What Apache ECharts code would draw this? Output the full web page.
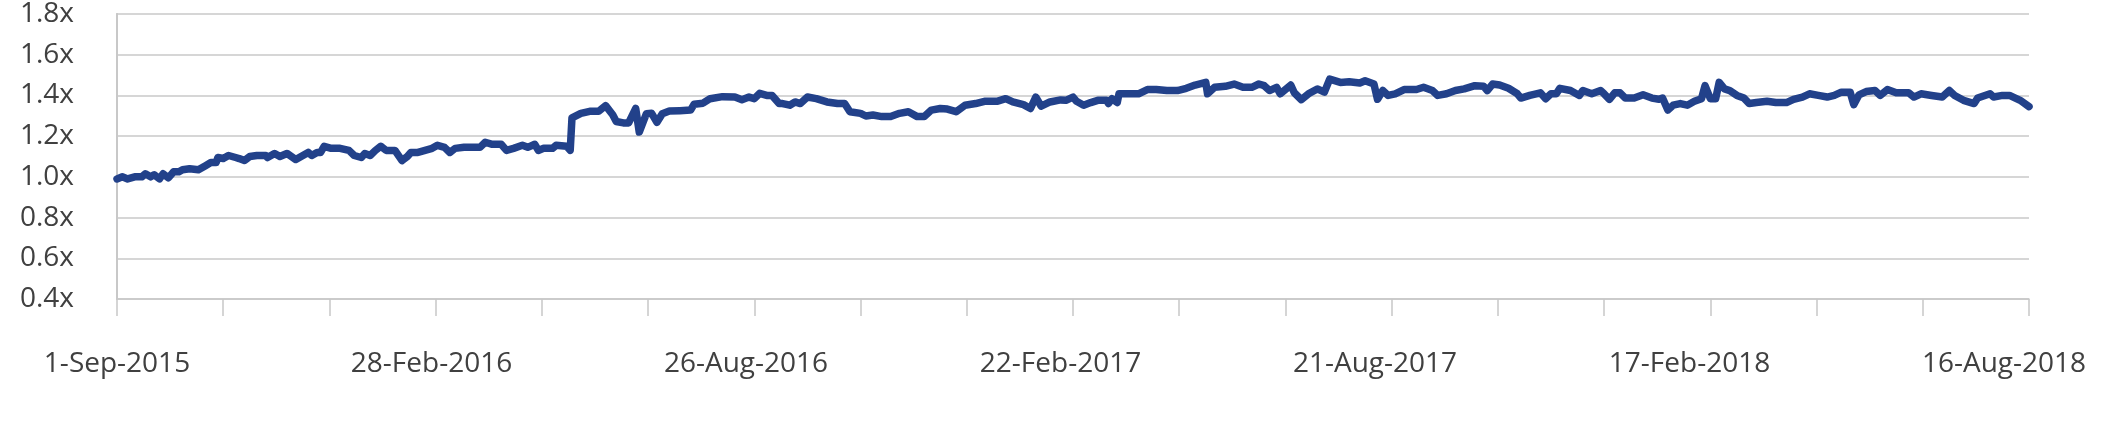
<!DOCTYPE html>
<html>
<head>
<meta charset="utf-8">
<script src="https://cdn.jsdelivr.net/npm/echarts@6/dist/echarts.min.js"></script>
<style>
html,body{margin:0;padding:0;background:#fff;}
#chart{width:2121px;height:436px;}
</style>
</head>
<body>
<div id="chart"></div>
<script>
// Start date of the series (day 0 on the x axis)
const startDate = [2015, 8, 1]; // 1-Sep-2015 (month 0-based)
const totalDays = 1080;         // 1-Sep-2015 .. 16-Aug-2018
const tickStepDays = 60;
const labelStepDays = 180;

// Y-axis tick values
const yTicks = [0.4, 0.6, 0.8, 1.0, 1.2, 1.4, 1.6, 1.8];

// Days since start date
const days = [
  0,3,6,10,14,16,19,21,24,26,
  29,32,35,37,41,46,50,53,56,57,
  60,63,67,69,72,75,79,84,85,89,
  92,96,101,104,108,110,113,115,117,121,
  126,131,134,138,140,143,146,149,152,157,
  161,164,166,170,174,178,181,185,188,191,
  196,201,205,208,212,217,220,224,229,232,
  236,238,241,246,248,254,256,257,262,267,
  272,276,280,282,286,289,293,295,299,302,
  305,308,312,318,324,326,331,335,342,349,
  353,357,360,363,367,370,374,376,380,383,
  386,390,395,401,407,411,414,420,423,427,
  432,437,442,447,452,456,460,465,469,474,
  479,485,490,497,502,506,512,516,519,522,
  527,533,536,540,542,546,550,554,559,560,
  562,565,566,570,577,582,587,593,599,604,
  609,615,616,620,626,631,636,641,645,648,
  651,655,657,663,665,669,673,678,682,685,
  691,696,702,705,710,712,715,718,722,727,
  734,738,743,746,751,756,761,767,772,774,
  777,781,786,791,793,798,804,807,810,813,
  815,821,826,828,833,838,840,843,846,849,
  852,857,862,867,871,873,876,879,883,887,
  891,895,897,900,903,905,908,911,915,919,
  922,926,932,937,943,947,952,956,961,966,
  970,974,979,981,984,988,993,996,1000,1005,
  1012,1015,1019,1025,1031,1035,1038,1043,1049,1051,
  1058,1060,1065,1069,1075,1080
];

// Multiple (x) values
const multiples = [
  0.99,1.0,0.99,1.0,1.0,1.015,1.0,1.01,0.99,1.015,
  0.995,1.025,1.025,1.035,1.04,1.035,1.055,1.07,1.07,1.095,
  1.09,1.105,1.095,1.09,1.08,1.1,1.105,1.105,1.095,1.115,
  1.1,1.115,1.085,1.1,1.12,1.105,1.12,1.12,1.15,1.14,
  1.14,1.13,1.105,1.095,1.115,1.105,1.13,1.15,1.13,1.13,
  1.08,1.1,1.12,1.12,1.13,1.14,1.155,1.145,1.12,1.14,
  1.145,1.145,1.145,1.17,1.16,1.16,1.13,1.14,1.155,1.145,
  1.16,1.13,1.14,1.14,1.155,1.15,1.13,1.29,1.312,1.322,
  1.322,1.35,1.305,1.272,1.265,1.265,1.336,1.22,1.31,1.312,
  1.268,1.31,1.323,1.325,1.328,1.357,1.362,1.384,1.394,1.392,
  1.379,1.392,1.384,1.41,1.4,1.4,1.36,1.36,1.352,1.368,
  1.36,1.392,1.384,1.368,1.36,1.36,1.32,1.312,1.299,1.304,
  1.296,1.296,1.312,1.32,1.296,1.296,1.328,1.336,1.333,1.32,
  1.352,1.36,1.371,1.371,1.384,1.368,1.355,1.336,1.392,1.347,
  1.368,1.378,1.376,1.392,1.371,1.352,1.365,1.376,1.376,1.36,
  1.384,1.365,1.408,1.408,1.408,1.429,1.429,1.424,1.424,1.435,
  1.451,1.464,1.408,1.44,1.445,1.456,1.44,1.44,1.456,1.448,
  1.424,1.44,1.408,1.451,1.413,1.379,1.408,1.432,1.416,1.48,
  1.464,1.467,1.461,1.472,1.456,1.381,1.424,1.4,1.408,1.429,
  1.429,1.44,1.424,1.4,1.408,1.424,1.432,1.448,1.445,1.424,
  1.456,1.451,1.435,1.408,1.387,1.4,1.413,1.384,1.408,1.408,
  1.435,1.424,1.4,1.424,1.408,1.424,1.408,1.381,1.413,1.413,
  1.387,1.387,1.403,1.387,1.381,1.387,1.328,1.352,1.36,1.352,
  1.371,1.384,1.448,1.384,1.384,1.464,1.432,1.424,1.4,1.387,
  1.36,1.365,1.371,1.365,1.365,1.381,1.392,1.408,1.4,1.392,
  1.4,1.416,1.416,1.355,1.403,1.419,1.424,1.4,1.429,1.413,
  1.413,1.392,1.408,1.4,1.392,1.424,1.4,1.376,1.36,1.387,
  1.408,1.392,1.4,1.4,1.376,1.345
];

const MONTHS = ['Jan','Feb','Mar','Apr','May','Jun','Jul','Aug','Sep','Oct','Nov','Dec'];
function dayLabel(d) {
  const t = new Date(Date.UTC(startDate[0], startDate[1], startDate[2]) + d * 86400000);
  return t.getUTCDate() + '-' + MONTHS[t.getUTCMonth()] + '-' + t.getUTCFullYear();
}

const seriesData = days.map((d, i) => [d, multiples[i]]);

const chart = echarts.init(document.getElementById('chart'), null, {renderer: 'canvas'});
const FONT = '"Open Sans", "Noto Sans", sans-serif';
const GRID_COLOR = '#c8c8c8';
const TEXT_COLOR = '#404040';

chart.setOption({
  animation: false,
  backgroundColor: '#ffffff',
  grid: {left: 117, right: 92, top: 13, bottom: 137, containLabel: false,
         show: true, borderColor: GRID_COLOR, borderWidth: 0},
  xAxis: [
    {
      type: 'value', min: 0, max: totalDays, interval: tickStepDays,
      position: 'bottom',
      axisLine: {show: true, lineStyle: {color: GRID_COLOR, width: 1.5}},
      axisTick: {show: true, length: 17, lineStyle: {color: GRID_COLOR, width: 1.5}},
      axisLabel: {show: false},
      splitLine: {show: false}
    },
    {
      // label axis (Excel spaces its date labels slightly tighter than the ticks)
      type: 'value', min: 0, max: 1094.3, interval: labelStepDays,
      position: 'bottom',
      axisLine: {show: false}, axisTick: {show: false}, splitLine: {show: false},
      axisLabel: {
        show: true, margin: 51, fontFamily: FONT, fontSize: 28, color: TEXT_COLOR,
        showMaxLabel: false,
        formatter: v => (Math.abs(v % labelStepDays) < 1e-6 && v <= totalDays) ? dayLabel(v) : ''
      }
    }
  ],
  yAxis: [
    {
      type: 'value', min: yTicks[0], max: yTicks[yTicks.length - 1], interval: 0.2,
      position: 'left',
      axisLine: {show: true, lineStyle: {color: GRID_COLOR, width: 2}},
      axisTick: {show: false},
      axisLabel: {margin: 43, fontFamily: FONT, fontSize: 28, color: TEXT_COLOR,
                  formatter: v => v.toFixed(1) + 'x'},
      splitLine: {show: true, lineStyle: {color: GRID_COLOR, width: 1.5}}
    },
    {
      type: 'value', min: yTicks[0], max: yTicks[yTicks.length - 1], interval: 0.2,
      position: 'right',
      axisLine: {show: true, lineStyle: {color: GRID_COLOR, width: 2}},
      axisTick: {show: false}, axisLabel: {show: false}, splitLine: {show: false}
    }
  ],
  series: [{
    type: 'line',
    xAxisIndex: 0, yAxisIndex: 0,
    data: seriesData,
    showSymbol: false, symbol: 'none',
    smooth: false,
    lineStyle: {color: '#22418a', width: 7.5, join: 'round', cap: 'round'}
  }]
});
</script>
</body>
</html>
